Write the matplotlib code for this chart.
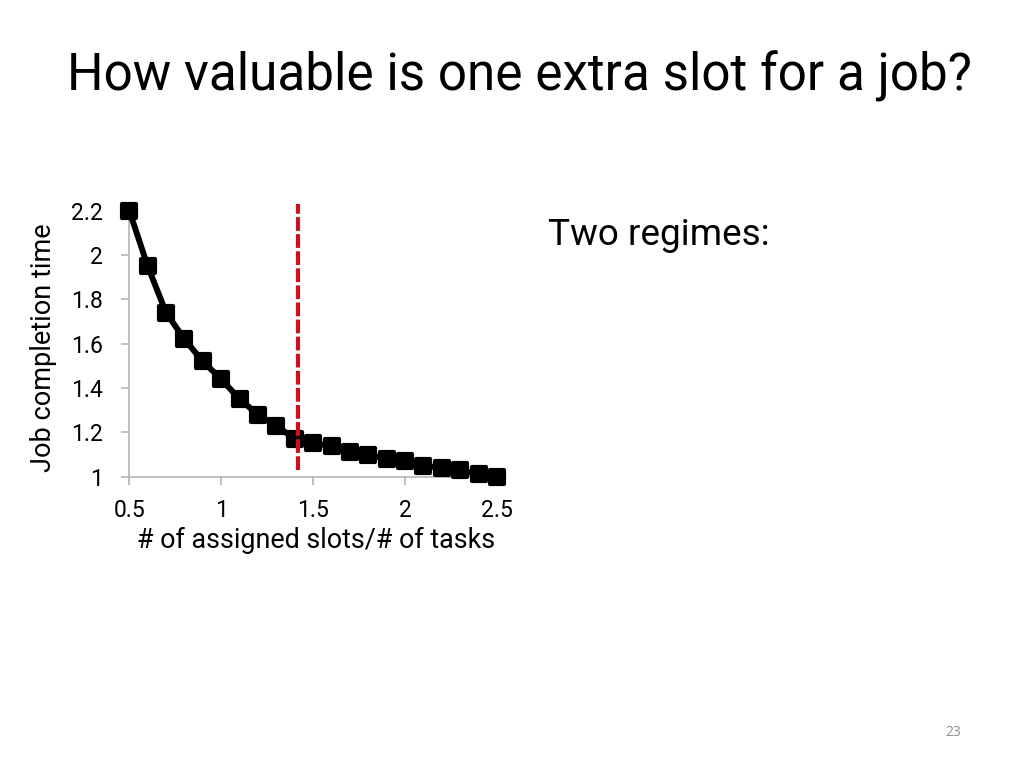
import matplotlib
matplotlib.use("Agg")
import matplotlib.pyplot as plt
from matplotlib.markers import MarkerStyle

ratio = [0.5, 0.6, 0.7, 0.8, 0.9, 1.0, 1.1, 1.2, 1.3, 1.4, 1.5,
         1.6, 1.7, 1.8, 1.9, 2.0, 2.1, 2.2, 2.3, 2.4, 2.5]
completion = [2.20, 1.95, 1.74, 1.62, 1.52, 1.44, 1.35, 1.28, 1.23, 1.17, 1.15,
              1.14, 1.11, 1.10, 1.08, 1.07, 1.05, 1.04, 1.03, 1.01, 1.00]
threshold_x = 1.42
threshold_y = [1.03, 2.23]
x_ticks = [0.5, 1, 1.5, 2, 2.5]
x_tick_labels = ["0.5", "1", "1.5", "2", "2.5"]
y_ticks = [1, 1.2, 1.4, 1.6, 1.8, 2, 2.2]
y_tick_labels = ["1", "1.2", "1.4", "1.6", "1.8", "2", "2.2"]

plt.rcParams['font.family'] = ['Roboto', 'DejaVu Sans']

W, H = 1024, 768
fig = plt.figure(figsize=(W / 100, H / 100), dpi=100)
fig.patch.set_facecolor("white")
renderer = fig.canvas.get_renderer()


def fit(t, target, horizontal=True):
    bb = t.get_window_extent(renderer=renderer)
    cur = bb.width if horizontal else bb.height
    t.set_fontsize(t.get_fontsize() * target / cur)
    return t


ax = fig.add_axes([129.3 / W, 1 - 476.7 / H, (497 - 129.3) / W, (476.7 - 210.7) / H])
ax.plot(ratio, completion, color="black", linewidth=4.3,
        marker=MarkerStyle("s", joinstyle="round"),
        markersize=9.5, markeredgewidth=3, markeredgecolor="black",
        markerfacecolor="black", solid_joinstyle="round", clip_on=False, zorder=3)
ax.plot([threshold_x, threshold_x], threshold_y, color="#cc1020",
        linewidth=3, linestyle=(0, (3.3, 0.8)), clip_on=False, zorder=4)

ax.set_xlim(0.5, 2.5)
ax.set_ylim(1, 2.2)
ax.set_xticks(x_ticks)
ax.set_xticklabels(x_tick_labels)
ax.set_yticks(y_ticks)
ax.set_yticklabels(y_tick_labels)
for s in ["top", "right"]:
    ax.spines[s].set_visible(False)
for s in ["left", "bottom"]:
    ax.spines[s].set_color("#b5b5b5")
    ax.spines[s].set_linewidth(1.2)
ax.tick_params(axis="both", colors="#b5b5b5", labelcolor="black",
               labelsize=16.5, length=6, width=1.2, direction="out")
ax.tick_params(axis="x", pad=10)
ax.tick_params(axis="y", pad=13)
ax.set_facecolor("white")

# axis labels
xl = fig.text(316 / W, 1 - 548 / H, "# of assigned slots/# of tasks",
              fontsize=19, ha="center", va="baseline", color="black")
fit(xl, 358)
yl = fig.text(44 / W, 1 - 348 / H, "Job completion time", fontsize=19,
              rotation=90, ha="center", va="center", color="black")
fit(yl, 247, horizontal=False)

title = fig.text(519.5 / W, 1 - 91 / H, "How valuable is one extra slot for a job?",
                 fontsize=40, ha="center", va="baseline", color="black")
fit(title, 905)
tr = fig.text(548 / W, 1 - 245 / H, "Two regimes:", fontsize=26, ha="left",
              va="baseline", color="black")
fit(tr, 222)
fig.text(953 / W, 1 - 733 / H, "23", fontsize=10, ha="center", va="center",
         color="#8c8c8c", family=["Open Sans", "DejaVu Sans"])

fig.savefig("out.png", dpi=100, facecolor="white")
